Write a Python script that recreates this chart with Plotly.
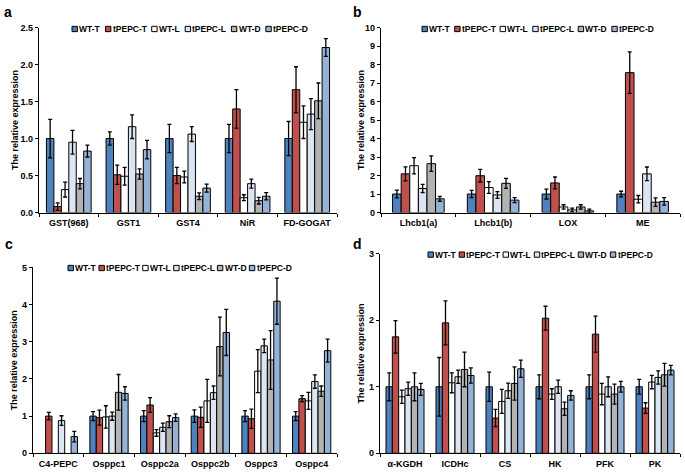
import plotly.graph_objects as go

# ---------------- data ----------------
series = ["WT-T", "tPEPC-T", "WT-L", "tPEPC-L", "WT-D", "tPEPC-D"]
colors = ["#4F81BD", "#C0504D", "#FFFFFF", "#DCE6F2", "#B3B3B3", "#95B3D7"]

a_cats = ["GST(968)", "GST1", "GST4", "NiR", "FD-GOGAT"]
a_vals = [
    [1.00, 1.00, 1.00, 1.00, 1.00],
    [0.08, 0.51, 0.50, 1.40, 1.66],
    [0.31, 0.49, 0.48, 0.20, 1.22],
    [0.95, 1.16, 1.06, 0.39, 1.33],
    [0.39, 0.52, 0.22, 0.16, 1.51],
    [0.83, 0.85, 0.33, 0.22, 2.23],
]
a_errs = [
    [0.26, 0.09, 0.19, 0.19, 0.23],
    [0.05, 0.13, 0.11, 0.26, 0.31],
    [0.10, 0.12, 0.08, 0.04, 0.22],
    [0.16, 0.16, 0.10, 0.06, 0.21],
    [0.07, 0.07, 0.045, 0.045, 0.24],
    [0.08, 0.125, 0.055, 0.05, 0.12],
]

b_cats = ["Lhcb1(a)", "Lhcb1(b)", "LOX", "ME"]
b_vals = [
    [1.00, 1.00, 1.00, 1.00],
    [2.09, 1.99, 1.60, 7.56],
    [2.53, 1.35, 0.30, 0.72],
    [1.30, 0.95, 0.14, 2.09],
    [2.64, 1.58, 0.30, 0.56],
    [0.74, 0.67, 0.09, 0.60],
]
b_errs = [
    [0.21, 0.20, 0.27, 0.15],
    [0.38, 0.34, 0.32, 1.12],
    [0.44, 0.32, 0.12, 0.20],
    [0.22, 0.18, 0.10, 0.37],
    [0.42, 0.27, 0.12, 0.23],
    [0.13, 0.14, 0.09, 0.20],
]

c_cats = ["C4-PEPC", "Osppc1", "Osppc2a", "Osppc2b", "Osppc3", "Osppc4"]
c_vals = [
    [None, 1.00, 1.00, 1.00, 1.00, 1.00],
    [1.00, 0.96, 1.30, 0.97, 0.93, 1.47],
    [None, 0.98, 0.55, 1.41, 2.21, 1.41],
    [0.88, 1.00, 0.70, 1.63, 2.89, 1.93],
    [None, 1.64, 0.85, 2.87, 2.51, 1.67],
    [0.45, 1.61, 0.96, 3.25, 4.09, 2.76],
]
c_errs = [
    [None, 0.12, 0.15, 0.17, 0.15, 0.12],
    [0.10, 0.20, 0.20, 0.27, 0.26, 0.08],
    [None, 0.30, 0.09, 0.58, 0.58, 0.23],
    [0.13, 0.11, 0.11, 0.18, 0.18, 0.18],
    [None, 0.48, 0.16, 0.79, 0.79, 0.14],
    [0.14, 0.18, 0.10, 0.62, 0.62, 0.31],
]

d_cats = ["α-KGDH", "ICDHc", "CS", "HK", "PFK", "PK"]
d_vals = [
    [1.00, 1.00, 1.00, 1.00, 1.00, 1.00],
    [1.75, 1.96, 0.53, 2.03, 1.79, 0.68],
    [0.85, 1.06, 0.78, 0.89, 0.89, 1.07],
    [0.97, 1.15, 0.94, 1.00, 1.00, 1.14],
    [1.00, 1.26, 1.05, 0.67, 0.89, 1.18],
    [0.96, 1.17, 1.27, 0.87, 1.00, 1.25],
]
d_errs = [
    [0.21, 0.44, 0.22, 0.18, 0.18, 0.11],
    [0.245, 0.33, 0.13, 0.18, 0.27, 0.08],
    [0.10, 0.15, 0.18, 0.08, 0.16, 0.10],
    [0.10, 0.10, 0.115, 0.10, 0.15, 0.10],
    [0.21, 0.26, 0.25, 0.10, 0.15, 0.17],
    [0.09, 0.115, 0.13, 0.07, 0.08, 0.07],
]

y_title = "The relative expression"

# ---------------- layout helpers ----------------
W, H = 685, 474
FONT = "Arial, Liberation Sans, sans-serif"
LEG_FONT = 8.5
SQ = 5.4
SQ_GAP = 0.8

# approximate Arial Bold advance widths (em) for legend layout
_CW = {"W": 0.944, "T": 0.611, "-": 0.333, "t": 0.333, "P": 0.667,
       "E": 0.667, "C": 0.722, "L": 0.611, "D": 0.722}


def text_w(s, f):
    return sum(_CW.get(ch, 0.6) for ch in s) * f


def px(x):
    return x / W


def py(y):
    return 1 - y / H


panels = [
    dict(cats=a_cats, vals=a_vals, errs=a_errs, xd=(39, 337), yd=(212, 23), rng=2.5, dt=0.5,
         fmt=".1f", gap=0.25, lab="a", labpos=(2, 7), ytx=15, leg=(72, 307, 24.5)),
    dict(cats=b_cats, vals=b_vals, errs=b_errs, xd=(381, 680), yd=(212, 23), rng=10, dt=1,
         fmt="d", gap=0.31, lab="b", labpos=(351, 7), ytx=361, leg=(422, 653, 24.5)),
    dict(cats=c_cats, vals=c_vals, errs=c_errs, xd=(33, 337), yd=(458, 268), rng=5, dt=1,
         fmt="d", gap=0.245, lab="c", labpos=(3, 244.5), ytx=14, leg=(68, 290.5, 268.7)),
    dict(cats=d_cats, vals=d_vals, errs=d_errs, xd=(380, 680), yd=(458, 254), rng=3, dt=1,
         fmt="d", gap=0.24, lab="d", labpos=(351, 244.5), ytx=361, leg=(428, 651.5, 255)),
]

fig = go.Figure()
layout = dict(
    width=W, height=H, autosize=False,
    margin=dict(l=0, r=0, t=0, b=0),
    paper_bgcolor="white", plot_bgcolor="white",
    barmode="group", showlegend=False,
    font=dict(family=FONT, size=9, color="black"),
)
shapes = []
annotations = []

for k, p in enumerate(panels):
    n = k + 1
    xa = "x" if n == 1 else f"x{n}"
    ya = "y" if n == 1 else f"y{n}"
    xkey = "xaxis" if n == 1 else f"xaxis{n}"
    ykey = "yaxis" if n == 1 else f"yaxis{n}"
    ncat = len(p["cats"])
    bw = (1 - p["gap"]) / len(series)
    start = -(1 - p["gap"]) / 2
    for i, s in enumerate(series):
        fig.add_trace(go.Bar(
            x=p["cats"], y=p["vals"][i], name=s,
            xaxis=xa, yaxis=ya,
            width=bw, offset=start + i * bw,
            marker=dict(color=colors[i], line=dict(color="black", width=1)),
            error_y=dict(type="data", array=p["errs"][i], visible=True,
                         color="black", thickness=1.3, width=2),
            showlegend=False,
        ))
    layout[xkey] = dict(
        domain=[px(p["xd"][0]), px(p["xd"][1])], anchor=ya,
        type="category", range=[-0.5, ncat - 0.5],
        showline=True, linecolor="black", linewidth=1.2,
        ticks="outside", ticklen=3, tickcolor="black", tickwidth=1,
        tickson="boundaries", showgrid=False, zeroline=False,
        tickfont=dict(family=FONT, size=9, weight="bold"),
        ticklabelstandoff=2,
        fixedrange=True,
    )
    layout[ykey] = dict(
        domain=[py(p["yd"][0]), py(p["yd"][1])], anchor=xa,
        range=[0, p["rng"]], dtick=p["dt"], tick0=0, tickformat=p["fmt"],
        showline=True, linecolor="black", linewidth=1.2,
        ticks="outside", ticklen=3, tickcolor="black", tickwidth=1,
        showgrid=False, zeroline=False,
        tickfont=dict(family=FONT, size=9, weight="bold"),
        fixedrange=True,
    )
    annotations.append(dict(
        text=y_title, textangle=-90, xref="paper", yref="paper",
        x=px(p["ytx"]), y=py((p["yd"][0] + p["yd"][1]) / 2),
        xanchor="center", yanchor="middle", showarrow=False,
        font=dict(family=FONT, size=9, weight="bold"),
    ))
    annotations.append(dict(
        text=p["lab"], xref="paper", yref="paper",
        x=px(p["labpos"][0]), y=py(p["labpos"][1]),
        xanchor="left", yanchor="middle", showarrow=False,
        font=dict(family=FONT, size=14, weight="bold"),
    ))
    # legend: squares + labels laid out to span the reference width
    lx0, lx1, ly = p["leg"]
    widths = [text_w(s, LEG_FONT) for s in series]
    fixed = sum(SQ + SQ_GAP + w for w in widths)
    gap2 = (lx1 - lx0 - fixed) / (len(series) - 1)
    x0 = lx0
    for i, s in enumerate(series):
        shapes.append(dict(
            type="rect", xref="paper", yref="paper",
            x0=px(x0), x1=px(x0 + SQ), y0=py(ly + SQ / 2), y1=py(ly - SQ / 2),
            fillcolor=colors[i], line=dict(color="black", width=1),
        ))
        annotations.append(dict(
            text=s, xref="paper", yref="paper",
            x=px(x0 + SQ + SQ_GAP), y=py(ly),
            xanchor="left", yanchor="middle", showarrow=False,
            font=dict(family=FONT, size=LEG_FONT, weight="bold"),
            borderpad=0,
        ))
        x0 += SQ + SQ_GAP + widths[i] + gap2

layout["shapes"] = shapes
layout["annotations"] = annotations
fig.update_layout(**layout)
fig.write_html(
    "out.html",
    config={"displayModeBar": False},
    post_script="document.body.style.margin='0px';document.body.style.overflow='hidden';",
)
